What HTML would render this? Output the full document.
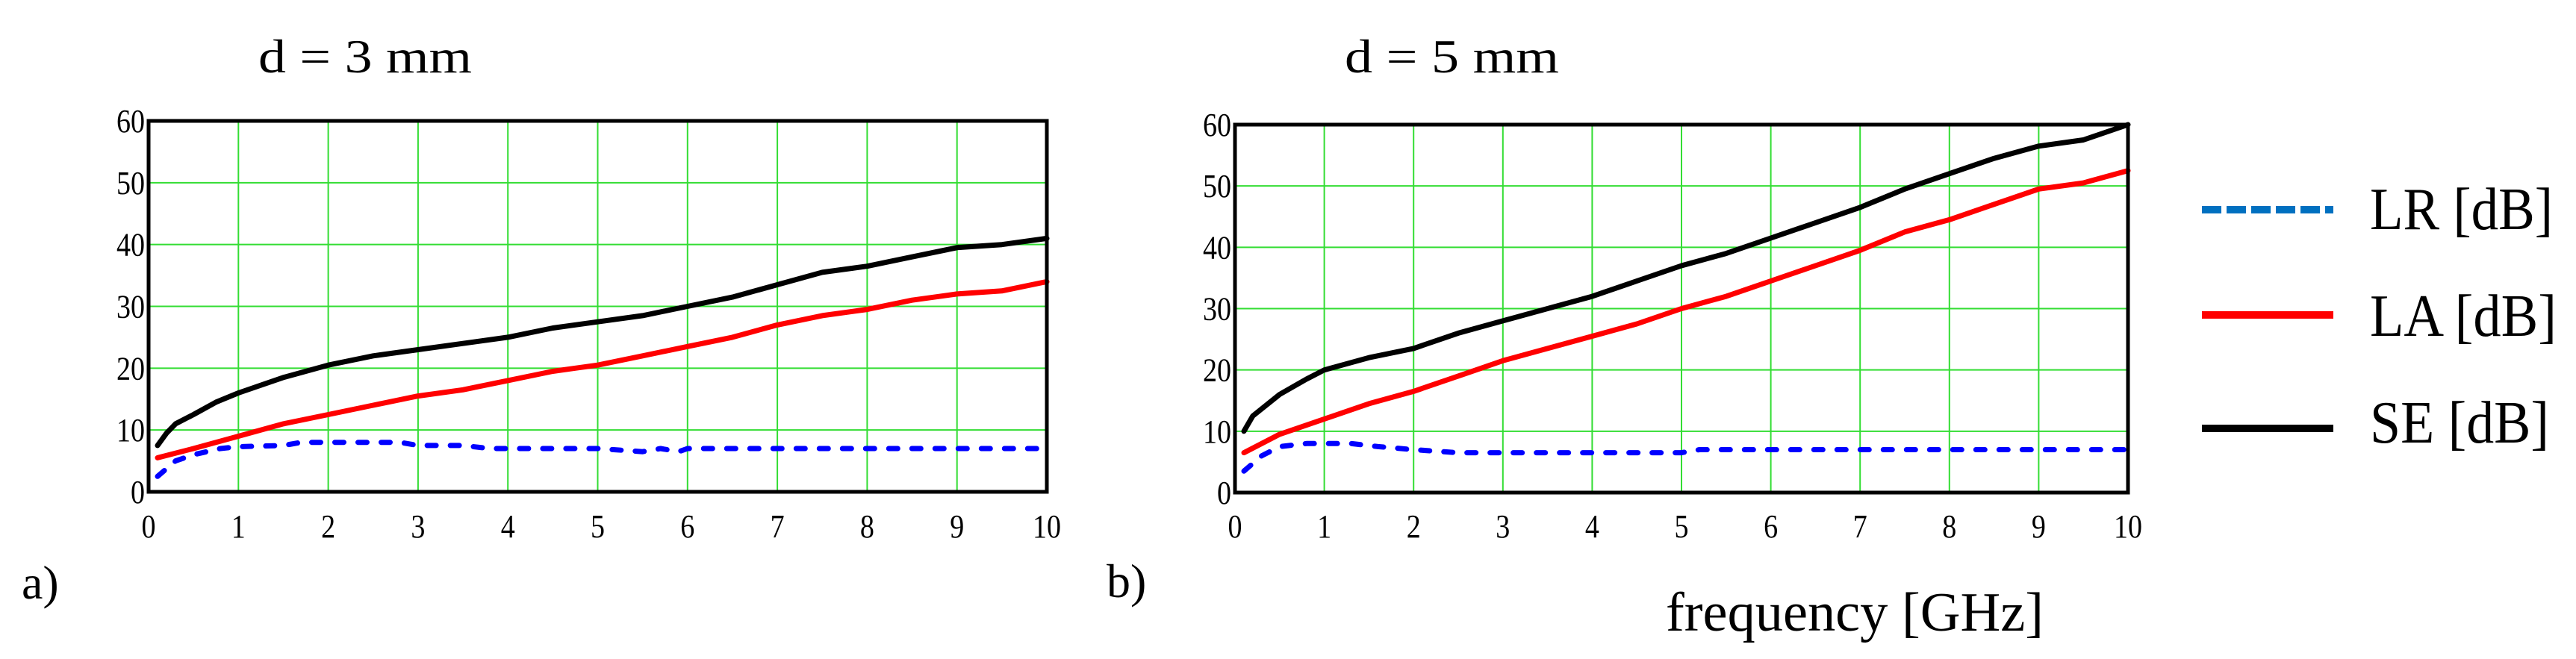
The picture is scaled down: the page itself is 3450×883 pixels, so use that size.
<!DOCTYPE html>
<html><head><meta charset="utf-8"><style>
html,body{margin:0;padding:0;background:#fff;}
svg{display:block;}
text{font-family:"Liberation Serif",serif;fill:#000;}
</style></head><body>
<svg id="root" width="3450" height="883" viewBox="0 0 3450 883" xmlns="http://www.w3.org/2000/svg">
<text x="346" y="97" font-size="64" textLength="286" lengthAdjust="spacingAndGlyphs">d = 3 mm</text>
<text x="1801" y="97" font-size="64" textLength="287" lengthAdjust="spacingAndGlyphs">d = 5 mm</text>
<text x="29" y="802" font-size="64">a)</text>
<text x="1482" y="800" font-size="64">b)</text>
<text x="2231" y="845" font-size="74" textLength="506" lengthAdjust="spacingAndGlyphs">frequency [GHz]</text>
<g>
<line x1="2949" y1="281" x2="3125" y2="281" stroke="#0070c0" stroke-width="10" stroke-dasharray="26 7"/>
<text x="3174" y="307" font-size="80" textLength="245" lengthAdjust="spacingAndGlyphs">LR [dB]</text>
<line x1="2949" y1="422" x2="3125" y2="422" stroke="#ff0000" stroke-width="10"/>
<text x="3174" y="450" font-size="80" textLength="250" lengthAdjust="spacingAndGlyphs">LA [dB]</text>
<line x1="2949" y1="574" x2="3125" y2="574" stroke="#000" stroke-width="10"/>
<text x="3174" y="593" font-size="80" textLength="240" lengthAdjust="spacingAndGlyphs">SE [dB]</text>
</g>
<g id="chartA"></g>
<g id="chartB"></g>
</svg>
<script>
const xTicks = [0,1,2,3,4,5,6,7,8,9,10];
const yTicks = [0,10,20,30,40,50,60];
const aSEx = [0.1,0.2,0.3,0.5,0.75,1,1.5,2,2.5,3,3.5,4,4.5,5,5.5,6,6.5,7,7.5,8,8.5,9,9.5,10];
const aSEy = [7.5,9.5,11,12.5,14.5,16,18.5,20.5,22,23,24,25,26.5,27.5,28.5,30,31.5,33.5,35.5,36.5,38,39.5,40,41];
const aLAx = [0.1,0.5,1,1.5,2,2.5,3,3.5,4,4.5,5,5.5,6,6.5,7,7.5,8,8.5,9,9.5,10];
const aLAy = [5.5,7,9,11,12.5,14,15.5,16.5,18,19.5,20.5,22,23.5,25,27,28.5,29.5,31,32,32.5,34];
const aLRx = [0.1,0.3,0.5,0.8,1,1.5,1.7,2,2.5,2.8,3,3.5,3.8,4,5,5.5,5.7,5.9,6,10];
const aLRy = [2.5,5,6,7,7.3,7.5,8,8,8,8,7.5,7.5,7,7,7,6.5,7,6.5,7,7];
const bSEx = [0.1,0.2,0.5,0.8,1,1.5,2,2.5,3,3.5,4,4.5,5,5.5,6,6.5,7,7.5,8,8.5,9,9.5,10];
const bSEy = [10,12.5,16,18.5,20,22,23.5,26,28,30,32,34.5,37,39,41.5,44,46.5,49.5,52,54.5,56.5,57.5,60];
const bLAx = [0.1,0.5,1,1.5,2,2.5,3,3.5,4,4.5,5,5.5,6,6.5,7,7.5,8,8.5,9,9.5,10];
const bLAy = [6.5,9.5,12,14.5,16.5,19,21.5,23.5,25.5,27.5,30,32,34.5,37,39.5,42.5,44.5,47,49.5,50.5,52.5];
const bLRx = [0.1,0.3,0.5,0.8,1,1.3,1.6,2,2.5,3,4,5,5.2,6,10];
const bLRy = [3.5,6,7.5,8,8,8,7.5,7,6.5,6.5,6.5,6.5,7,7,7];

const NS = "http://www.w3.org/2000/svg";
function mk(parent, tag, attrs){
  const e = document.createElementNS(NS, tag);
  for (const k in attrs) e.setAttribute(k, attrs[k]);
  parent.appendChild(e);
  return e;
}
function drawChart(g, L, R, T, B, series, prefix){
  const xs = v => L + (v/10)*(R-L);
  const ys = v => B - (v/60)*(B-T);
  xTicks.forEach(t => {
    if (t>0 && t<10){
      const l = mk(g,'line',{x1:xs(t),x2:xs(t),y1:T,y2:B,stroke:'#33dd33','stroke-width':2});
      
      
    }
    const s = String(t);
    const tx = mk(g,'text',{x:xs(t),y:720,'font-size':44,'text-anchor':'middle',textLength:s.length*19,lengthAdjust:'spacingAndGlyphs'});
    tx.textContent = s;
    
    
  });
  yTicks.forEach(t => {
    if (t>0 && t<60){
      const l = mk(g,'line',{x1:L,x2:R,y1:ys(t),y2:ys(t),stroke:'#33dd33','stroke-width':2});
      
      
    }
    const s = String(t);
    const tx = mk(g,'text',{x:L-5,y:ys(t)+15,'font-size':44,'text-anchor':'end',textLength:s.length*19,lengthAdjust:'spacingAndGlyphs'});
    tx.textContent = s;
    
    
  });
  series.forEach(s => {
    const pts = s.x.map((v,i)=> xs(v).toFixed(1)+','+ys(s.y[i]).toFixed(1)).join(' ');
    const attrs = {points:pts,fill:'none',stroke:s.c,'stroke-width':7,'stroke-linejoin':'round','stroke-linecap':'round'};
    if (s.dash) attrs['stroke-dasharray'] = '12 19';
    const p = mk(g,'polyline',attrs);
    
    
  });
  const f = mk(g,'rect',{x:L,y:T,width:R-L,height:B-T,fill:'none',stroke:'#000','stroke-width':5});
  
  
}
drawChart(document.getElementById('chartA'), 199, 1402, 162, 659, [
  {x:aLRx,y:aLRy,c:'#0000ff',dash:true,n:'lr'},
  {x:aLAx,y:aLAy,c:'#ff0000',n:'la'},
  {x:aSEx,y:aSEy,c:'#000000',n:'se'}], 'chart-a');
drawChart(document.getElementById('chartB'), 1654, 2850, 167, 660, [
  {x:bLRx,y:bLRy,c:'#0000ff',dash:true,n:'lr'},
  {x:bLAx,y:bLAy,c:'#ff0000',n:'la'},
  {x:bSEx,y:bSEy,c:'#000000',n:'se'}], 'chart-b');
</script>
</body></html>
